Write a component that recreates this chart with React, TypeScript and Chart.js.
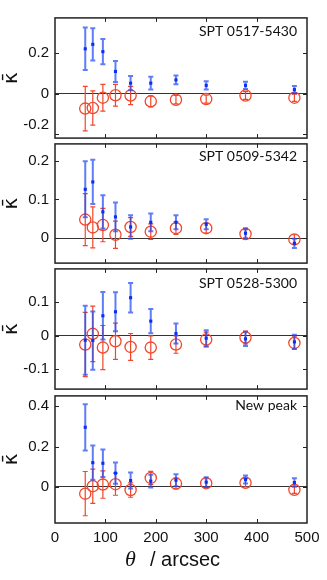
import React, { useEffect, useRef } from 'react';
import { Chart, registerables } from 'chart.js';

Chart.register(...registerables);

// ---------- data ----------
const theta = [60, 75, 95, 120, 150, 190, 240, 300, 378, 475];
const xTickValues = [0, 100, 200, 300, 400, 500];
const panelNames = ['SPT 0517-5430', 'SPT 0509-5342', 'SPT 0528-5300', 'New peak'];

const p1Blue = [0.222, 0.244, 0.208, 0.110, 0.052, 0.052, 0.068, 0.041, 0.041, 0.020];
const p1BlueErr = [0.105, 0.080, 0.063, 0.052, 0.035, 0.032, 0.022, 0.020, 0.018, 0.018];
const p1Red = [-0.074, -0.071, -0.020, -0.008, -0.009, -0.038, -0.030, -0.027, -0.009, -0.020];
const p1RedErr = [0.110, 0.085, 0.066, 0.054, 0.045, 0.027, 0.021, 0.020, 0.019, 0.018];

const p2Blue = [0.126, 0.145, 0.068, 0.055, 0.029, 0.041, 0.041, 0.036, 0.013, -0.013];
const p2BlueErr = [0.072, 0.057, 0.043, 0.037, 0.030, 0.023, 0.018, 0.013, 0.013, 0.012];
const p2Red = [0.048, 0.028, 0.034, 0.009, 0.029, 0.017, 0.026, 0.026, 0.011, -0.003];
const p2RedErr = [0.067, 0.053, 0.043, 0.035, 0.024, 0.020, 0.016, 0.013, 0.011, 0.012];

const p3Blue = [-0.014, -0.015, 0.059, 0.071, 0.113, 0.043, 0.006, -0.008, -0.010, -0.019];
const p3BlueErr = [0.103, 0.087, 0.071, 0.058, 0.044, 0.036, 0.030, 0.024, 0.021, 0.021];
const p3Red = [-0.027, 0.005, -0.036, -0.017, -0.034, -0.036, -0.027, -0.012, -0.006, -0.022];
const p3RedErr = [0.096, 0.083, 0.066, 0.054, 0.040, 0.035, 0.026, 0.022, 0.019, 0.018];

const p4Blue = [0.296, 0.120, 0.117, 0.068, 0.031, 0.028, 0.033, 0.023, 0.036, 0.021];
const p4BlueErr = [0.115, 0.085, 0.068, 0.053, 0.040, 0.032, 0.030, 0.024, 0.020, 0.021];
const p4Red = [-0.034, 0.003, 0.011, 0.013, -0.016, 0.044, 0.016, 0.018, 0.020, -0.015];
const p4RedErr = [0.110, 0.085, 0.068, 0.055, 0.036, 0.033, 0.027, 0.022, 0.021, 0.018];

const p1YTicks = [-0.2, 0, 0.2];
const p2YTicks = [0, 0.1, 0.2];
const p3YTicks = [-0.1, 0, 0.1];
const p4YTicks = [0, 0.2, 0.4];

const p1YRange = [-0.22, 0.375];
const p2YRange = [-0.064, 0.243];
const p3YRange = [-0.16, 0.199];
const p4YRange = [-0.18, 0.452];

// ---------- layout / style ----------
const W = 327;
const H = 580;
const BLUE_PT = '#0a2ff0';
const BLUE_ERR = 'rgba(35,75,245,0.72)';
const RED = '#f2462b';
const TEXT = '#111';

const PANELS = [
  { name: panelNames[0], blue: p1Blue, blueErr: p1BlueErr, red: p1Red, redErr: p1RedErr, yTicks: p1YTicks, yRange: p1YRange, top: 15, bottom: 141, labelDy: 14, shiftLow: true, last: false },
  { name: panelNames[1], blue: p2Blue, blueErr: p2BlueErr, red: p2Red, redErr: p2RedErr, yTicks: p2YTicks, yRange: p2YRange, top: 141, bottom: 266, labelDy: 13, shiftLow: false, last: false },
  { name: panelNames[2], blue: p3Blue, blueErr: p3BlueErr, red: p3Red, redErr: p3RedErr, yTicks: p3YTicks, yRange: p3YRange, top: 266, bottom: 392, labelDy: 15, shiftLow: false, last: false },
  { name: panelNames[3], blue: p4Blue, blueErr: p4BlueErr, red: p4Red, redErr: p4RedErr, yTicks: p4YTicks, yRange: p4YRange, top: 393, bottom: 523, labelDy: 10, shiftLow: false, last: true },
];

const PAD = 4;

const errorBarPlugin = {
  id: 'errorBars',
  beforeDatasetDraw(chart: any, args: any) {
    const ds: any = chart.data.datasets[args.index];
    if (!ds.errors) return;
    const meta = args.meta;
    const y = chart.scales.y;
    const ctx = chart.ctx;
    ctx.save();
    ctx.strokeStyle = ds.errColor;
    ctx.lineWidth = ds.errWidth;
    meta.data.forEach((pt: any, i: number) => {
      const v = ds.data[i].y;
      const e = ds.errors[i];
      const px = pt.x;
      const yTop = y.getPixelForValue(v + e);
      const yBot = y.getPixelForValue(v - e);
      ctx.beginPath();
      ctx.moveTo(px, yTop);
      ctx.lineTo(px, yBot);
      ctx.moveTo(px - ds.capHalf, yTop);
      ctx.lineTo(px + ds.capHalf, yTop);
      ctx.moveTo(px - ds.capHalf, yBot);
      ctx.lineTo(px + ds.capHalf, yBot);
      ctx.stroke();
    });
    ctx.restore();
  },
};

const framePlugin = {
  id: 'frame',
  afterDraw(chart: any, _args: any, opts: any) {
    const { ctx, chartArea: a, scales } = chart;
    const x = scales.x;
    const y = scales.y;
    ctx.save();
    ctx.strokeStyle = '#222';
    ctx.lineWidth = 1;
    ctx.beginPath();
    xTickValues.forEach((v) => {
      const px = Math.round(x.getPixelForValue(v)) + 0.5;
      if (px <= a.left + 1 || px >= a.right - 1) return;
      ctx.moveTo(px, a.bottom);
      ctx.lineTo(px, a.bottom - 4);
      ctx.moveTo(px, a.top);
      ctx.lineTo(px, a.top + 4);
    });
    y.ticks.forEach((t: any) => {
      const py = Math.round(y.getPixelForValue(t.value)) + 0.5;
      ctx.moveTo(a.left, py);
      ctx.lineTo(a.left + 4, py);
      ctx.moveTo(a.right, py);
      ctx.lineTo(a.right - 4, py);
    });
    ctx.stroke();
    ctx.lineWidth = 1.5;
    ctx.strokeRect(a.left, a.top, a.right - a.left, a.bottom - a.top);

    ctx.fillStyle = TEXT;
    ctx.font = '14px Lato';
    ctx.textAlign = 'right';
    ctx.textBaseline = 'middle';
    ctx.fillText(opts.label, a.right - 10, a.top + opts.labelDy);

    if (opts.xTitle) {
      const base = a.bottom + 43;
      ctx.textAlign = 'left';
      ctx.textBaseline = 'alphabetic';
      ctx.font = 'italic 22px "Liberation Serif"';
      ctx.fillText('θ', 125, base);
      ctx.font = '20px "Liberation Sans"';
      ctx.fillText('/ arcsec', 150, base);
    }
    ctx.restore();
  },
};

function Panel({ cfg }: { cfg: any }) {
  const ref = useRef<HTMLCanvasElement>(null);
  const canvasTop = cfg.top - PAD;
  const h = cfg.last ? H - canvasTop : cfg.bottom - cfg.top + 2 * PAD;

  useEffect(() => {
    if (!ref.current) return;
    const chart = new Chart(ref.current, {
      type: 'scatter',
      data: {
        datasets: [
          {
            label: 'blue',
            data: theta.map((x, i) => ({ x, y: cfg.blue[i] })),
            errors: cfg.blueErr,
            errColor: BLUE_ERR,
            errWidth: 2,
            capHalf: 2.5,
            pointStyle: 'rect',
            pointRadius: 2.2,
            backgroundColor: BLUE_PT,
            borderColor: BLUE_PT,
            borderWidth: 0,
          } as any,
          {
            label: 'red',
            data: theta.map((x, i) => ({ x, y: cfg.red[i] })),
            errors: cfg.redErr,
            errColor: RED,
            errWidth: 1.2,
            capHalf: 2.5,
            pointStyle: 'circle',
            pointRadius: 5.6,
            backgroundColor: 'rgba(0,0,0,0)',
            borderColor: RED,
            borderWidth: 1.3,
          } as any,
        ],
      },
      options: {
        responsive: false,
        maintainAspectRatio: false,
        animation: false,
        events: [],
        layout: { padding: { top: PAD, bottom: cfg.last ? 0 : PAD, left: 0, right: 20 } },
        plugins: {
          legend: { display: false },
          tooltip: { enabled: false },
          frame: { label: cfg.name, labelDy: cfg.labelDy, xTitle: cfg.last },
        } as any,
        scales: {
          x: {
            type: 'linear',
            min: 0,
            max: 500,
            display: cfg.last,
            afterBuildTicks: (s: any) => {
              s.ticks = xTickValues.map((v) => ({ value: v }));
            },
            afterFit: (s: any) => {
              s.height = cfg.last ? 57 : 0;
              s.paddingLeft = 0;
              s.paddingRight = 0;
              s.paddingTop = 0;
              s.paddingBottom = 0;
            },
            grid: { display: false, drawTicks: false },
            border: { display: false },
            ticks: {
              padding: 6,
              autoSkip: false,
              maxRotation: 0,
              color: TEXT,
              font: { family: 'Liberation Sans', size: 15 },
              callback: (v: any) => String(v),
            },
          },
          y: {
            type: 'linear',
            min: cfg.yRange[0],
            max: cfg.yRange[1],
            afterBuildTicks: (s: any) => {
              s.ticks = cfg.yTicks.map((v: number) => ({ value: v }));
            },
            afterFit: (s: any) => {
              s.width = 55;
              s.paddingTop = 0;
              s.paddingBottom = 0;
              s.paddingLeft = 0;
              s.paddingRight = 0;
            },
            grid: {
              drawTicks: false,
              lineWidth: 1,
              color: (c: any) => (c.tick && c.tick.value === 0 ? '#333' : 'rgba(0,0,0,0)'),
            },
            border: { display: false },
            ticks: {
              padding: 6,
              color: TEXT,
              font: { family: 'Liberation Sans', size: 15 },
              callback: (v: any) => {
                const s = v === 0 ? '0' : String(v);
                if (cfg.shiftLow && v < 0) return [s, ''];
                return s;
              },
            },
            title: {
              display: true,
              text: 'κ̄',
              color: TEXT,
              padding: 0,
              font: { family: 'DejaVu Sans', size: 20 },
            },
          },
        },
      },
      plugins: [errorBarPlugin, framePlugin],
    } as any);
    return () => chart.destroy();
  }, []);

  return (
    <canvas
      ref={ref}
      width={W}
      height={h}
      style={{ position: 'absolute', left: 0, top: canvasTop, width: W, height: h, display: 'block' }}
    />
  );
}

export default function App() {
  return (
    <div style={{ position: 'absolute', left: 0, top: 0, width: W, height: H, background: '#fff', overflow: 'hidden' }}>
      {PANELS.map((p, i) => (
        <Panel key={i} cfg={p} />
      ))}
    </div>
  );
}
